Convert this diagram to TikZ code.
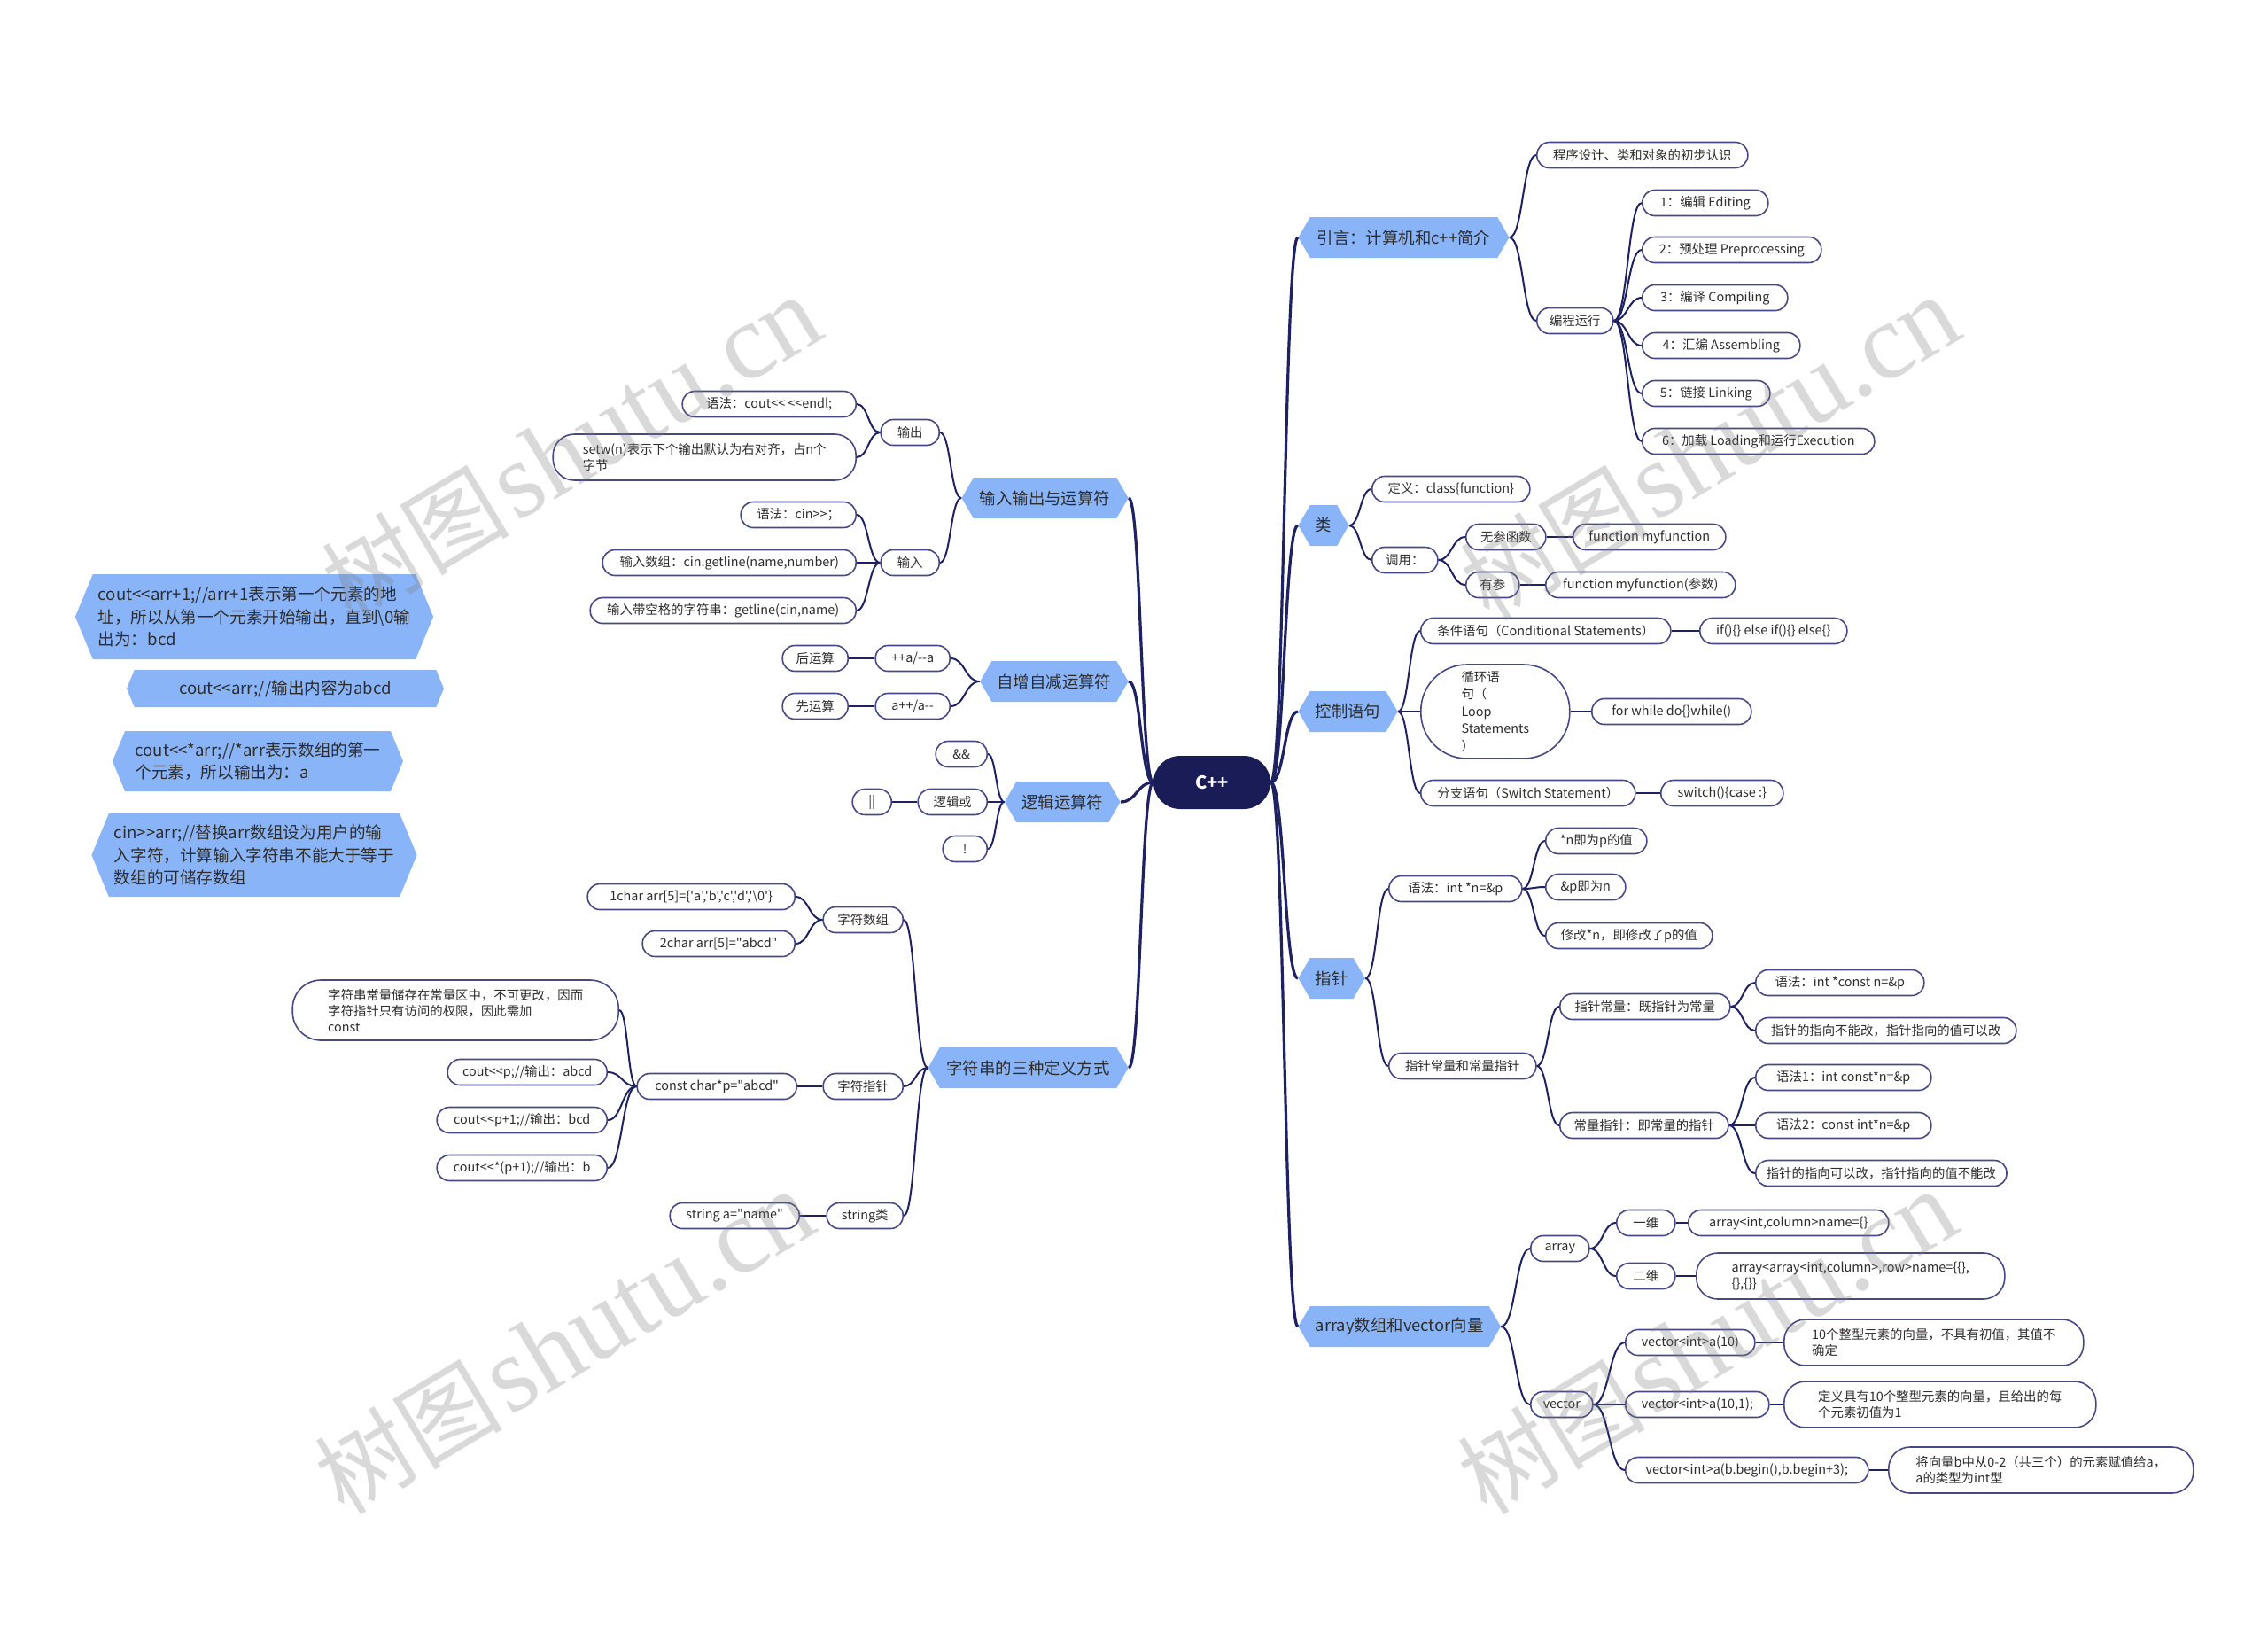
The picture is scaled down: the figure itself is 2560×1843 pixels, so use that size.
\documentclass[tikz,border=0pt]{standalone}
\usepackage{fontspec}
\newfontfamily\cjk{Noto Sans CJK SC}
\newfontfamily\wmserif{Liberation Serif}
\usetikzlibrary{shapes.misc,shapes.symbols,calc}
\definecolor{navy}{RGB}{30,33,98}
\definecolor{cppfill}{RGB}{26,28,88}
\definecolor{mainblue}{RGB}{138,180,248}
\definecolor{leafline}{RGB}{70,72,135}
\definecolor{txt}{RGB}{45,45,45}
\tikzset{
 conn/.style={draw=navy, line width=1pt},
 trunk/.style={draw=navy, line width=1.6pt},
 leaf/.style={rectangle, rounded corners=7pt, draw=leafline, line width=0.8pt, fill=white, text=txt,
   font=\cjk\fontsize{7.2}{9}\selectfont, minimum height=14.5pt, inner xsep=6pt, inner ysep=2pt},
 mleaf/.style={leaf, align=left, rounded corners=12pt},
 mainb/.style={signal, signal to=east and west, signal pointer angle=120, fill=mainblue,
   text=txt, font=\cjk\fontsize{9.2}{11}\selectfont, minimum height=23pt, inner xsep=3pt},
 fbox/.style={signal, signal to=east and west, signal pointer angle=135, fill=mainblue,
   text=txt, font=\cjk\fontsize{9.3}{12.8}\selectfont, align=left, inner xsep=3pt},
 root/.style={rectangle, rounded corners=15pt, fill=cppfill, text=white, font=\cjk\fontsize{10}{12}\selectfont\bfseries,
   minimum width=66pt, minimum height=30pt},
 wm/.style={text=gray, opacity=0.3, rotate=31, inner sep=0pt}
}
\newcommand\lnk[3][conn]{\draw[#1] let \p1=(#2), \p2=(#3), \n1={0.5*(\x2-\x1)} in
  (\p1) .. controls ({\x1+\n1},\y1) and ({\x2-\n1},\y2) .. (\p2);}
\begin{document}
\begin{tikzpicture}[x=0.5pt,y=-0.5pt]
\useasboundingbox (0,0) rectangle (2560,1843);

\node[root] (cpp) at (1368,883) {C++};

% ---------- right: intro
\node[mainb, anchor=west, minimum width=119pt] (b1) at (1465,268) {引言：计算机和c++简介};
\node[leaf, anchor=west, minimum width=119pt] (b1a) at (1734,175) {程序设计、类和对象的初步认识};
\node[leaf, anchor=west, minimum width=43pt] (b1b) at (1734,362) {编程运行};
\node[leaf, anchor=west, minimum width=71pt] (s1) at (1853,229) {1：编辑 Editing};
\node[leaf, anchor=west, minimum width=101pt] (s2) at (1853,282) {2：预处理 Preprocessing};
\node[leaf, anchor=west, minimum width=82pt] (s3) at (1853,336) {3：编译 Compiling};
\node[leaf, anchor=west, minimum width=89pt] (s4) at (1853,390) {4：汇编 Assembling};
\node[leaf, anchor=west, minimum width=72pt] (s5) at (1853,444) {5：链接 Linking};
\node[leaf, anchor=west, minimum width=131pt] (s6) at (1853,498) {6：加载 Loading和运行Execution};

% ---------- class
\node[mainb, anchor=west, minimum width=27pt] (b2) at (1465,593) {类};
\node[leaf, anchor=west, minimum width=89pt] (c1) at (1548,552) {定义：class\{function\}};
\node[leaf, anchor=west, minimum width=37pt] (c2) at (1548,632) {调用：};
\node[leaf, anchor=west, minimum width=45pt] (c2a) at (1654,606) {无参函数};
\node[leaf, anchor=west, minimum width=86pt] (fm1) at (1775,606) {function myfunction};
\node[leaf, anchor=west, minimum width=30pt] (c2b) at (1654,660) {有参};
\node[leaf, anchor=west, minimum width=107pt] (fm2) at (1744,660) {function myfunction(参数)};

% ---------- control
\node[mainb, anchor=west, minimum width=53pt] (b3) at (1465,803) {控制语句};
\node[leaf, anchor=west, minimum width=141pt] (k1) at (1603,712) {条件语句（Conditional Statements）};
\node[leaf, anchor=west, minimum width=83pt] (k1a) at (1918,712) {if()\{\} else if()\{\} else\{\}};
\node[leaf, anchor=west, align=left, rounded corners=26pt, minimum width=84pt, minimum height=53pt,
  font=\cjk\fontsize{7.2}{9.8}\selectfont] (k2) at (1603,803) {循环语\\句（\\Loop\\Statements\\）};
\node[leaf, anchor=west, minimum width=90pt] (k2a) at (1796,803) {for while do\{\}while()};
\node[leaf, anchor=west, minimum width=121pt] (k3) at (1603,895) {分支语句（Switch Statement）};
\node[leaf, anchor=west, minimum width=69pt] (k3a) at (1874,895) {switch()\{case :\}};

% ---------- pointer
\node[mainb, anchor=west, minimum width=33pt] (b4) at (1465,1104) {指针};
\node[leaf, anchor=west, minimum width=75pt] (z1) at (1567,1003) {语法：int *n=\&p};
\node[leaf, anchor=west, minimum width=57pt] (p1) at (1744,949) {*n即为p的值};
\node[leaf, anchor=west, minimum width=45pt] (p2) at (1744,1001) {\&p即为n};
\node[leaf, anchor=west, minimum width=94pt] (p3) at (1744,1056) {修改*n，即修改了p的值};
\node[leaf, anchor=west, minimum width=83pt] (z2) at (1567,1203) {指针常量和常量指针};
\node[leaf, anchor=west, minimum width=96pt] (zc) at (1760,1136) {指针常量：既指针为常量};
\node[leaf, anchor=west, minimum width=95pt] (zc1) at (1981,1109) {语法：int *const n=\&p};
\node[leaf, anchor=west, minimum width=147pt] (zc2) at (1981,1163) {指针的指向不能改，指针指向的值可以改};
\node[leaf, anchor=west, minimum width=95pt] (cz) at (1760,1270) {常量指针：即常量的指针};
\node[leaf, anchor=west, minimum width=99pt] (cz1) at (1981,1216) {语法1：int const*n=\&p};
\node[leaf, anchor=west, minimum width=99pt] (cz2) at (1981,1270) {语法2：const int*n=\&p};
\node[leaf, anchor=west, minimum width=141pt] (cz3) at (1981,1324) {指针的指向可以改，指针指向的值不能改};

% ---------- array / vector
\node[mainb, anchor=west, minimum width=113pt] (b5) at (1465,1497) {array数组和vector向量};
\node[leaf, anchor=west, minimum width=33pt] (arr) at (1727,1409) {array};
\node[leaf, anchor=west, minimum width=33pt] (yw) at (1824,1380) {一维};
\node[leaf, anchor=west, minimum width=113pt] (yw1) at (1905,1380) {array<int,column>name=\{\}};
\node[leaf, anchor=west, minimum width=33pt] (ew) at (1824,1440) {二维};
\node[mleaf, anchor=west, minimum width=174pt, minimum height=26pt] (ew1) at (1914,1440) {array<array<int,column>,row>name=\{\{\},\\\{\},\{\}\}};
\node[leaf, anchor=west, minimum width=35pt] (vec) at (1727,1585) {vector};
\node[leaf, anchor=west, minimum width=73pt] (v1) at (1834,1515) {vector<int>a(10)};
\node[mleaf, anchor=west, minimum width=169pt, minimum height=26pt] (v1d) at (2013,1515) {10个整型元素的向量，不具有初值，其值不\\确定};
\node[leaf, anchor=west, minimum width=81pt] (v2) at (1834,1585) {vector<int>a(10,1);};
\node[mleaf, anchor=west, minimum width=176pt, minimum height=26pt] (v2d) at (2013,1585) {定义具有10个整型元素的向量，且给出的每\\个元素初值为1};
\node[leaf, anchor=west, minimum width=137pt] (v3) at (1834,1659) {vector<int>a(b.begin(),b.begin+3);};
\node[mleaf, anchor=west, minimum width=172pt, minimum height=26pt] (v3d) at (2131,1659) {将向量b中从0-2（共三个）的元素赋值给a，\\a的类型为int型};

% ---------- left: io
\node[mainb, anchor=east, minimum width=94pt] (io) at (1274,562) {输入输出与运算符};
\node[leaf, anchor=east, minimum width=33pt] (out) at (1061,488) {输出};
\node[leaf, anchor=east, minimum width=98pt] (o1) at (967,456) {语法：cout<< <<endl;};
\node[mleaf, anchor=east, minimum width=171pt, minimum height=26pt] (o2) at (967,516) {setw(n)表示下个输出默认为右对齐，占n个\\字节};
\node[leaf, anchor=east, minimum width=33pt] (in) at (1061,635) {输入};
\node[leaf, anchor=east, minimum width=65pt] (i1) at (967,581) {语法：cin>>；};
\node[leaf, anchor=east, minimum width=143pt] (i2) at (967,635) {输入数组：cin.getline(name,number)};
\node[leaf, anchor=east, minimum width=150pt] (i3) at (967,689) {输入带空格的字符串：getline(cin,name)};

% ---------- increment
\node[mainb, anchor=east, minimum width=83pt] (inc) at (1274,769) {自增自减运算符};
\node[leaf, anchor=east, minimum width=42pt] (inc1) at (1073,743) {++a/--a};
\node[leaf, anchor=east, minimum width=37pt] (inc1a) at (958,743) {后运算};
\node[leaf, anchor=east, minimum width=42pt] (inc2) at (1073,797) {a++/a--};
\node[leaf, anchor=east, minimum width=37pt] (inc2a) at (958,797) {先运算};

% ---------- logic
\node[mainb, anchor=east, minimum width=59pt] (lg) at (1265,905) {逻辑运算符};
\node[leaf, anchor=east, minimum width=29pt] (and) at (1115,851) {\&\&};
\node[leaf, anchor=east, minimum width=39pt] (or) at (1115,905) {逻辑或};
\node[leaf, anchor=east, minimum width=22pt] (orb) at (1007,905) {||};
\node[leaf, anchor=east, minimum width=25pt] (not) at (1115,958) {!};

% ---------- strings
\node[mainb, anchor=east, minimum width=113pt] (str) at (1274,1205) {字符串的三种定义方式};
\node[leaf, anchor=east, minimum width=45pt] (sa) at (1020,1038) {字符数组};
\node[leaf, anchor=east, minimum width=117pt] (sa1) at (898,1012) {1char arr[5]=\{'a','b','c','d','\textbackslash0'\}};
\node[leaf, anchor=east, minimum width=86pt] (sa2) at (898,1065) {2char arr[5]="abcd"};
\node[leaf, anchor=east, minimum width=45pt] (sp) at (1020,1226) {字符指针};
\node[leaf, anchor=east, minimum width=90pt] (sp0) at (900,1226) {const char*p="abcd"};
\node[mleaf, anchor=east, rounded corners=16pt, minimum width=184pt, minimum height=34pt] (spa) at (699,1140) {字符串常量储存在常量区中，不可更改，因而\\字符指针只有访问的权限，因此需加\\const};
\node[leaf, anchor=east, minimum width=90pt] (spb) at (686,1210) {cout<<p;//输出：abcd};
\node[leaf, anchor=east, minimum width=96pt] (spc) at (686,1264) {cout<<p+1;//输出：bcd};
\node[leaf, anchor=east, minimum width=96pt] (spd) at (686,1318) {cout<<*(p+1);//输出：b};
\node[leaf, anchor=east, minimum width=43pt] (ss) at (1020,1372) {string类};
\node[leaf, anchor=east, minimum width=73pt] (ss1) at (903,1372) {string a="name"};

% ---------- floating boxes
\node[fbox, minimum width=197pt, minimum height=48pt] (f1) at (287,696) {cout<<arr+1;//arr+1表示第一个元素的地\\址，所以从第一个元素开始输出，直到\textbackslash0输\\出为：bcd};
\node[fbox, minimum width=179pt, minimum height=21pt] (f2) at (322,777) {cout<<arr;//输出内容为abcd};
\node[fbox, minimum width=164pt, minimum height=34pt] (f3) at (291,859) {cout<<*arr;//*arr表示数组的第一\\个元素，所以输出为：a};
\node[fbox, minimum width=181pt, minimum height=47pt] (f4) at (287,965) {cin>>arr;//替换arr数组设为用户的输\\入字符，计算输入字符串不能大于等于\\数组的可储存数组};

% ---------- connectors
\foreach \b in {b1,b2,b3,b4,b5} {\lnk[trunk]{cpp.east}{\b.west}}
\foreach \b in {io,inc,lg,str} {\lnk[trunk]{cpp.west}{\b.east}}
\lnk{b1.east}{b1a.west}\lnk{b1.east}{b1b.west}
\foreach \s in {s1,s2,s3,s4,s5,s6} {\lnk{b1b.east}{\s.west}}
\lnk{b2.east}{c1.west}\lnk{b2.east}{c2.west}
\lnk{c2.east}{c2a.west}\lnk{c2.east}{c2b.west}
\lnk{c2a.east}{fm1.west}\lnk{c2b.east}{fm2.west}
\lnk{b3.east}{k1.west}\lnk{b3.east}{k2.west}\lnk{b3.east}{k3.west}
\lnk{k1.east}{k1a.west}\lnk{k2.east}{k2a.west}\lnk{k3.east}{k3a.west}
\lnk{b4.east}{z1.west}\lnk{b4.east}{z2.west}
\foreach \s in {p1,p2,p3} {\lnk{z1.east}{\s.west}}
\lnk{z2.east}{zc.west}\lnk{z2.east}{cz.west}
\lnk{zc.east}{zc1.west}\lnk{zc.east}{zc2.west}
\foreach \s in {cz1,cz2,cz3} {\lnk{cz.east}{\s.west}}
\lnk{b5.east}{arr.west}\lnk{b5.east}{vec.west}
\lnk{arr.east}{yw.west}\lnk{arr.east}{ew.west}
\lnk{yw.east}{yw1.west}\lnk{ew.east}{ew1.west}
\foreach \s in {v1,v2,v3} {\lnk{vec.east}{\s.west}}
\lnk{v1.east}{v1d.west}\lnk{v2.east}{v2d.west}\lnk{v3.east}{v3d.west}
\lnk{io.west}{out.east}\lnk{io.west}{in.east}
\lnk{out.west}{o1.east}\lnk{out.west}{o2.east}
\foreach \s in {i1,i2,i3} {\lnk{in.west}{\s.east}}
\lnk{inc.west}{inc1.east}\lnk{inc.west}{inc2.east}
\lnk{inc1.west}{inc1a.east}\lnk{inc2.west}{inc2a.east}
\foreach \s in {and,or,not} {\lnk{lg.west}{\s.east}}
\lnk{or.west}{orb.east}
\foreach \s in {sa,sp,ss} {\lnk{str.west}{\s.east}}
\lnk{sa.west}{sa1.east}\lnk{sa.west}{sa2.east}
\lnk{sp.west}{sp0.east}
\foreach \s in {spa,spb,spc,spd} {\lnk{sp0.west}{\s.east}}
\lnk{ss.west}{ss1.east}

% ---------- watermarks
\foreach \p/\q in {645/506, 1930/506, 637/1515, 1927/1515}
  \node[wm] (wm\p\q) at (\p,\q) {{\cjk\fontsize{53}{58}\selectfont 树图} {\wmserif\fontsize{61}{64}\selectfont shutu.cn}};
\end{tikzpicture}
\end{document}
